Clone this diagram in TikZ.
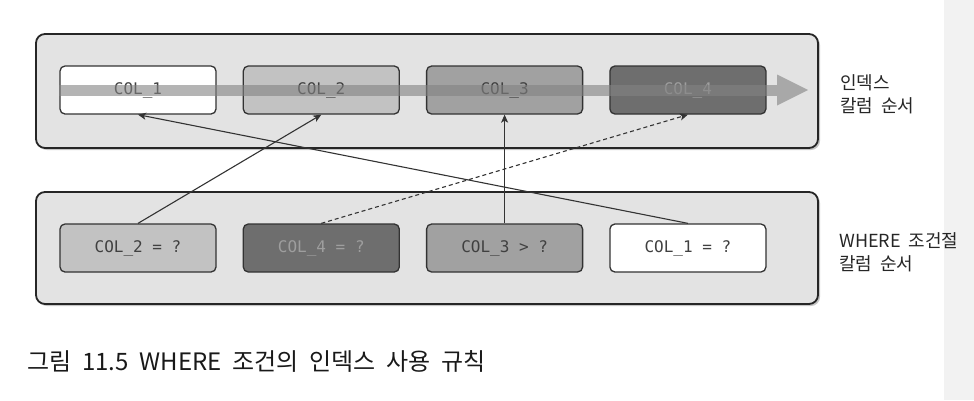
\documentclass[tikz,border=0pt]{standalone}
\usepackage{fontspec}
\setmonofont{DejaVu Sans Mono}
\newfontfamily\krfont[WordSpace=0.5]{Noto Sans CJK KR}
\newfontfamily\krwide[WordSpace=2]{Noto Sans CJK KR}
\usetikzlibrary{positioning,arrows.meta,shadows}
\tikzset{
    panel/.style = {draw=black!85, line width=1.8pt, rounded corners=9pt, fill=gray!22, minimum width=782pt,
        drop shadow={shadow xshift=2pt, shadow yshift=-2pt, opacity=0.45}},
    colbox/.style = {draw=black!80, line width=1.3pt, rounded corners=5pt, minimum width=156pt, minimum height=48pt,
        inner sep=0pt, font=\ttfamily\fontsize{16}{19}\selectfont, text=black!75},
    whitebox/.style = {colbox, fill=white},
    lightbox/.style = {colbox, fill=black!24},
    midbox/.style = {colbox, fill=black!37},
    darkbox/.style = {colbox, fill=black!57, text=black!38},
    link/.style = {draw=black!80, line width=1.1pt, -{Stealth[length=8pt,width=7pt,inset=2pt]}},
    band/.style = {draw=black!49, line width=11pt, opacity=0.6},
    bandtip/.style = {fill=black!49, opacity=0.6},
    sidelabel/.style = {anchor=west, align=left, inner sep=0pt, font=\krwide\fontsize{18}{23}\selectfont, text=black!85},
}

\begin{document}
\begin{tikzpicture}[x=1pt, y=-1pt]
\useasboundingbox (0,0) rectangle (974,400);
\fill[black!5] (944,0) rectangle (974,400);

% Panels
\node[panel, minimum height=114pt] (idxpanel) at (427,91) {};
\node[panel, minimum height=112pt] (wherepanel) at (427,248) {};

% Index column order
\node[whitebox] (t1) at (138,90) {COL\_1};
\node[lightbox, right=26pt of t1] (t2) {COL\_2};
\node[midbox, right=26pt of t2] (t3) {COL\_3};
\node[darkbox, right=26pt of t3] (t4) {COL\_4};

% Order arrow across the index columns
\coordinate (bandend) at (777,90);
\coordinate (bandtip) at (808,90);
\draw[band] (t1.west) -- (bandend);
\fill[bandtip] (bandtip) -- ([yshift=-15.5pt]bandend) -- ([yshift=15.5pt]bandend) -- cycle;

% WHERE column order
\node[lightbox] (b1) at (138,248) {COL\_2 = ?};
\node[darkbox, right=26pt of b1] (b2) {COL\_4 = ?};
\node[midbox, right=26pt of b2] (b3) {COL\_3 > ?};
\node[whitebox, right=26pt of b3] (b4) {COL\_1 = ?};

% Links
\draw[link] (b1.north) -- (t2.south);
\draw[link, dash pattern=on 4pt off 3pt] (b2.north) -- (t4.south);
\draw[link] (b3.north) -- (t3.south);
\draw[link] (b4.north) -- (t1.south);

% Side labels
\node[sidelabel] (idxlabel) at (840,94) {인덱스\\칼럼 순서};
\node[sidelabel] (wherelabel) at (839,252) {WHERE 조건절\\칼럼 순서};

% Caption
\node[anchor=west, inner sep=0pt, font=\krfont\fontsize{24}{28}\selectfont, text=black!90] (caption) at (27,361)
    {그림 11.5 WHERE 조건의 인덱스 사용 규칙};
\end{tikzpicture}
\end{document}
